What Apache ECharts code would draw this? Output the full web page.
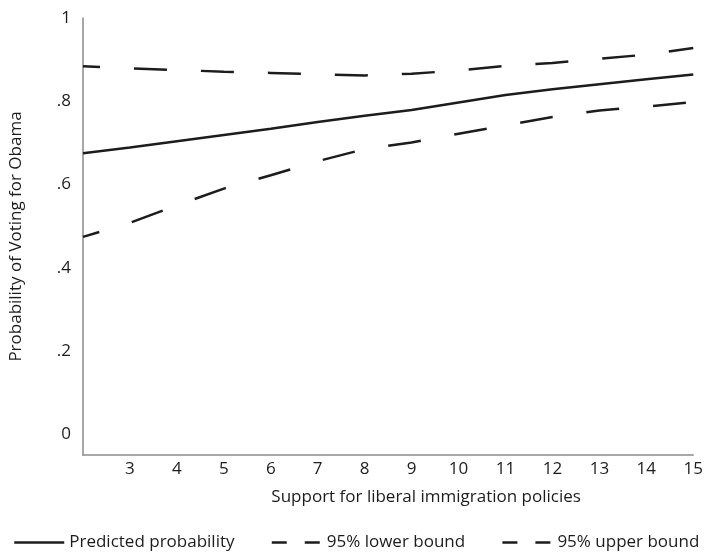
<!DOCTYPE html>
<html>
<head>
<meta charset="utf-8">
<script src="https://cdn.jsdelivr.net/npm/echarts@6/dist/echarts.min.js"></script>
<style>
  html, body { margin: 0; padding: 0; background: #fff; }
  #chart { width: 706px; height: 552px; }
</style>
</head>
<body>
<div id="chart"></div>
<script>
// Support for liberal immigration policies (x) and predicted probability of voting for Obama
const supportLevels = [2, 3, 4, 5, 6, 7, 8, 9, 10, 11, 12, 13, 14, 15];
const predicted   = [0.675, 0.689, 0.704, 0.719, 0.734, 0.750, 0.765, 0.779, 0.797, 0.815, 0.829, 0.841, 0.853, 0.864];
const lowerBound  = [0.474, 0.508, 0.550, 0.590, 0.622, 0.656, 0.685, 0.701, 0.722, 0.742, 0.762, 0.778, 0.787, 0.798];
const upperBound  = [0.884, 0.879, 0.875, 0.871, 0.868, 0.865, 0.862, 0.866, 0.874, 0.885, 0.892, 0.902, 0.912, 0.928];

const xTickLabels = ['3', '4', '5', '6', '7', '8', '9', '10', '11', '12', '13', '14', '15'];
const yTickValues = [0, 0.2, 0.4, 0.6, 0.8, 1];
const yTickLabels = ['0', '.2', '.4', '.6', '.8', '1'];

const seriesNames = ['Predicted probability', '95% lower bound', '95% upper bound'];

const FONT = '"Open Sans", Lato, sans-serif';
const INK = '#1c1c1c';
const AXIS = '#8a8a8a';
const DASH = [33, 34];
const LEGEND_DASH = [15, 18];

function pairs(values) {
  return supportLevels.map((x, i) => [x, values[i]]);
}

const chart = echarts.init(document.getElementById('chart'), null, { renderer: 'canvas' });

chart.setOption({
  animation: false,
  backgroundColor: '#ffffff',
  grid: { left: 80, right: 9, top: 18, bottom: 97, containLabel: false },
  xAxis: {
    type: 'value',
    min: 2,
    max: 15,
    name: 'Support for liberal immigration policies',
    nameLocation: 'middle',
    nameGap: 34,
    nameTextStyle: { fontFamily: FONT, fontSize: 17, color: INK, padding: [0, 0, 0, 76] },
    axisLine: { show: true, onZero: false, lineStyle: { color: AXIS, width: 1.5 } },
    axisTick: { show: false },
    splitLine: { show: false },
    axisLabel: {
      customValues: xTickLabels.map(Number),
      formatter: v => xTickLabels[xTickLabels.indexOf(String(v))] || '',
      fontFamily: FONT, fontSize: 17, color: INK, margin: 6
    }
  },
  yAxis: {
    type: 'value',
    min: -0.05,
    max: 1,
    name: 'Probability of Voting for Obama',
    nameLocation: 'middle',
    nameGap: 58,
    nameRotate: 90,
    nameTextStyle: { fontFamily: FONT, fontSize: 17, color: INK },
    axisLine: { show: true, onZero: false, lineStyle: { color: AXIS, width: 1.5 } },
    axisTick: { show: false },
    splitLine: { show: false },
    axisLabel: {
      customValues: yTickValues,
      formatter: v => {
        const i = yTickValues.findIndex(t => Math.abs(t - v) < 1e-9);
        return i >= 0 ? yTickLabels[i] : '';
      },
      fontFamily: FONT, fontSize: 17, color: INK, margin: 12
    }
  },
  legend: {
    show: true,
    orient: 'horizontal',
    top: 529,
    left: 8,
    itemGap: 36,
    itemWidth: 50,
    itemHeight: 10,
    itemStyle: { opacity: 0 },
    lineStyle: { width: 2.5 },
    textStyle: { fontFamily: FONT, fontSize: 17, color: INK },
    data: [
      { name: seriesNames[0] },
      { name: seriesNames[1], lineStyle: { type: LEGEND_DASH, dashOffset: 0 } },
      { name: seriesNames[2], lineStyle: { type: LEGEND_DASH, dashOffset: 0 } }
    ]
  },
  series: [
    {
      name: seriesNames[0],
      type: 'line',
      data: pairs(predicted),
      showSymbol: false,
      symbol: 'none',
      lineStyle: { color: INK, width: 2.5, type: 'solid' },
      itemStyle: { color: INK }
    },
    {
      name: seriesNames[1],
      type: 'line',
      data: pairs(lowerBound),
      showSymbol: false,
      symbol: 'none',
      lineStyle: { color: INK, width: 2.5, type: DASH, dashOffset: 16 },
      itemStyle: { color: INK }
    },
    {
      name: seriesNames[2],
      type: 'line',
      data: pairs(upperBound),
      showSymbol: false,
      symbol: 'none',
      lineStyle: { color: INK, width: 2.5, type: DASH, dashOffset: 16 },
      itemStyle: { color: INK }
    }
  ]
});
</script>
</body>
</html>
